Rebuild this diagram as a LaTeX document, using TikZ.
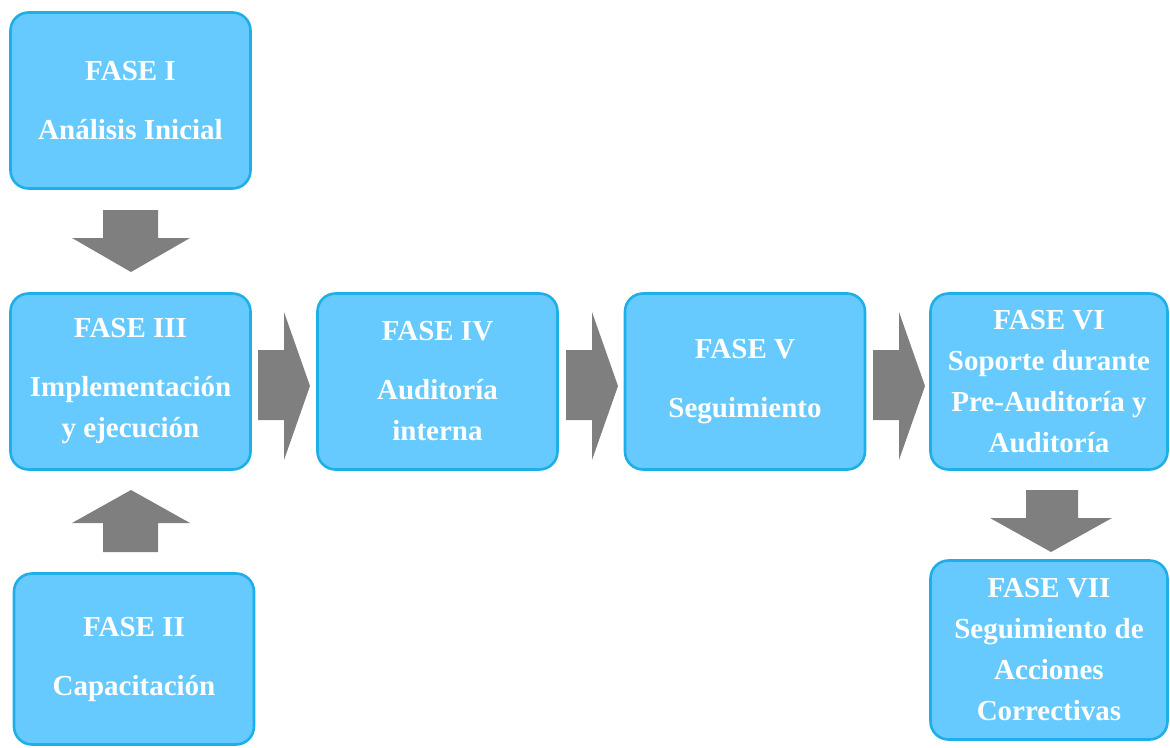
\documentclass[tikz,border=0pt]{standalone}
\usepackage{fontspec}
\setmainfont{Liberation Serif}
\definecolor{boxfill}{HTML}{66CAFE}
\definecolor{boxline}{HTML}{1EAFE8}
\definecolor{arrowgray}{HTML}{7F7F7F}
\begin{document}
\begin{tikzpicture}[x=1pt,y=-1pt,
  fase/.style={draw=boxline, line width=2.6pt, fill=boxfill, rounded corners=18pt,
    text=white, font=\fontsize{29}{41}\selectfont\bfseries, align=center,
    inner sep=0pt, minimum width=#1},
  fase/.default=240pt,
  blockarrow/.style={fill=arrowgray, draw=none}]
\useasboundingbox (0,0) rectangle (1170,747);
% boxes: given by corners
\node[fase, minimum width=240pt, minimum height=176pt] (f1) at (130.5,100.5) {FASE I\\[18pt]Análisis Inicial};
\node[fase, minimum width=240pt, minimum height=176pt] (f3) at (130.5,381.5) {FASE III\\[18pt]Implementación\\y ejecución};
\node[fase, minimum width=240pt, minimum height=171pt] (f2) at (134,659) {FASE II\\[18pt]Capacitación};
\node[fase, minimum width=240pt, minimum height=176pt] (f4) at (437.5,381.5) {FASE IV\\[18pt]Auditoría\\interna};
\node[fase, minimum width=240pt, minimum height=176pt] (f5) at (745,381.5) {FASE V\\[18pt]Seguimiento};
\node[fase, minimum width=237pt, minimum height=176pt] (f6) at (1049,381.5) {FASE VI\\Soporte durante\\Pre-Auditoría y\\Auditoría};
\node[fase, minimum width=237pt, minimum height=179pt] (f7) at (1049,650) {FASE VII\\Seguimiento de\\Acciones\\Correctivas};
% down arrow I -> III
\fill[blockarrow] (103,210) -- (158,210) -- (158,238) -- (190,238) -- (131,272) -- (72,238) -- (103,238) -- cycle;
% up arrow II -> III
\fill[blockarrow] (103,552) -- (158,552) -- (158,523) -- (190,523) -- (131,490) -- (72,523) -- (103,523) -- cycle;
% right arrows
\foreach \x in {258,566,873}{
  \fill[blockarrow] (\x,350) -- (\x+26,350) -- (\x+26,312) -- (\x+52,386) -- (\x+26,460) -- (\x+26,420) -- (\x,420) -- cycle;
}
% down arrow VI -> VII
\fill[blockarrow] (1026,490) -- (1078,490) -- (1078,518) -- (1112,518) -- (1051,552) -- (990,518) -- (1026,518) -- cycle;
\end{tikzpicture}
\end{document}
